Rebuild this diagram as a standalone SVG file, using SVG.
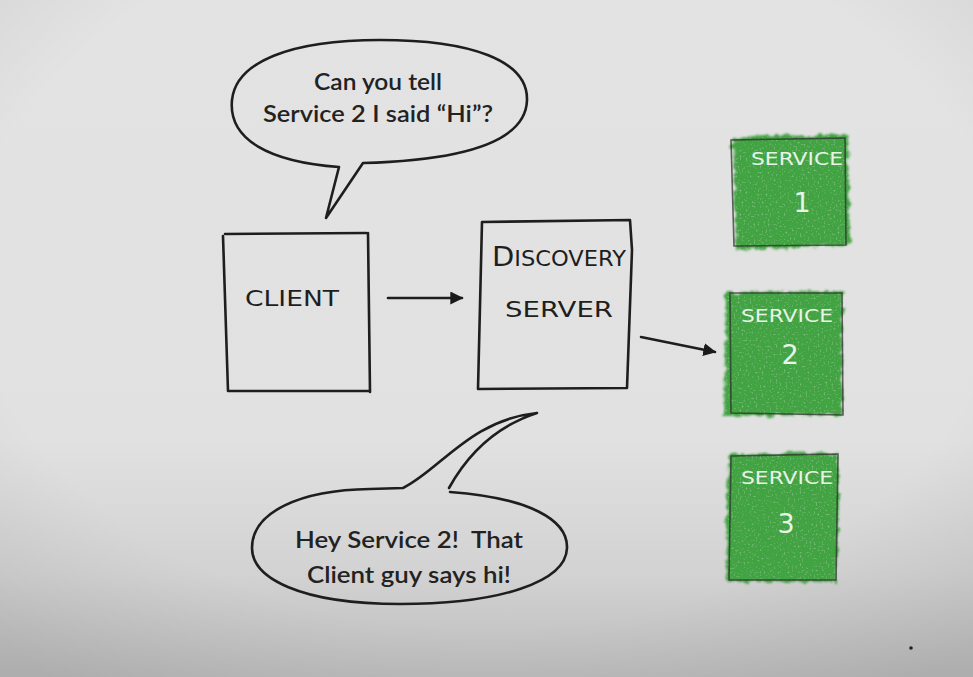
<svg xmlns="http://www.w3.org/2000/svg" width="973" height="677" viewBox="0 0 973 677">
<defs>
<linearGradient id="bg" x1="0" y1="0" x2="0" y2="1">
<stop offset="0" stop-color="#e3e3e3"/>
<stop offset="0.65" stop-color="#e1e1e1"/>
<stop offset="0.85" stop-color="#d2d2d2"/>
<stop offset="1" stop-color="#bcbcbc"/>
</linearGradient>
<radialGradient id="vig" cx="0.5" cy="0.4" r="0.75">
<stop offset="0.7" stop-color="#000" stop-opacity="0"/>
<stop offset="1" stop-color="#000" stop-opacity="0.08"/>
</radialGradient>
<filter id="chalk" x="-10%" y="-10%" width="120%" height="120%">
<feTurbulence type="fractalNoise" baseFrequency="0.12" numOctaves="3" seed="4" result="n"/>
<feDisplacementMap in="SourceGraphic" in2="n" scale="9" xChannelSelector="R" yChannelSelector="G" result="d"/>
<feGaussianBlur in="d" stdDeviation="0.8" result="b"/>
<feTurbulence type="fractalNoise" baseFrequency="0.5" numOctaves="2" seed="9" result="g"/>
<feColorMatrix in="g" type="matrix" values="0 0 0 0 0.45  0 0 0 0 0.75  0 0 0 0 0.45  0 0 0 1.4 -0.8" result="spk"/>
<feComposite in="spk" in2="b" operator="in" result="spk2"/>
<feMerge><feMergeNode in="b"/><feMergeNode in="spk2"/></feMerge>
</filter>
<marker id="ah" viewBox="0 0 10 10" refX="9" refY="5" markerWidth="5" markerHeight="5" orient="auto" markerUnits="strokeWidth">
<path d="M0,0 L10,5 L0,10 z" fill="#1a1a1a"/>
</marker>
<style>
.ink{fill:none;stroke:#1e1e1e;stroke-width:2.6;stroke-linecap:round;stroke-linejoin:round}
.thin{fill:none;stroke:#2a2a2a;stroke-width:1.6}
.hand{font-family:"DejaVu Sans",sans-serif;fill:#1e1e1e;font-size:21px}
.say{font-family:Lato,"Open Sans",sans-serif;fill:#222;font-size:23px;font-weight:600;text-anchor:middle}
.green{fill:#43a343}
.svc{font-family:"DejaVu Sans",sans-serif;fill:#e8f4e8;font-size:17px;text-anchor:middle}
.num{font-family:"DejaVu Sans",sans-serif;fill:#e8f4e8;font-size:27px;text-anchor:middle}
</style>
</defs>
<rect width="973" height="677" fill="url(#bg)"/>
<rect width="973" height="677" fill="url(#vig)"/>

<g id="bubble-top">
<path class="ink" d="M339,167 C270,162 228,140 232,100 C236,62 290,40 380,40 C470,40 528,60 527,100 C526,140 470,160 363,163 L326,218 Z" stroke-linejoin="miter"/>
<text class="say" x="378" y="90" textLength="128" lengthAdjust="spacingAndGlyphs">Can you tell</text>
<text class="say" x="378" y="122" textLength="230" lengthAdjust="spacingAndGlyphs">Service 2 I said “Hi”?</text>
</g>

<g id="client">
<path class="ink" d="M225,234 L366,233 M223,236 L228,391 L369,391 M368,233 L370,392"/>
<text class="hand" x="245" y="306" textLength="94" lengthAdjust="spacingAndGlyphs">CLIENT</text>
</g>

<g id="discovery-server">
<path class="ink" d="M482,222 L630,220 L632,250 L627,388 L478,389 L482,222"/>
<text class="hand" x="492" y="266" textLength="134" lengthAdjust="spacingAndGlyphs"><tspan style="font-size:27px">D</tspan>ISCOVERY</text>
<text class="hand" x="505" y="317" textLength="108" lengthAdjust="spacingAndGlyphs">SERVER</text>
</g>

<g id="service-1">
<path class="green" filter="url(#chalk)" d="M733,137 L848,134 L850,246 L736,250 Z"/>
<path class="thin" d="M731,140 L845,138 L846,245 L734,246 Z" stroke-opacity="0.7"/>
<text class="svc" x="797" y="165" textLength="92" lengthAdjust="spacingAndGlyphs">SERVICE</text>
<text class="num" x="802" y="212">1</text>
</g>

<g id="service-2">
<path class="green" filter="url(#chalk)" d="M726,292 L842,291 L842,415 L724,416 Z"/>
<path class="thin" d="M730,293 L842,293 L843,415 L731,413 Z" stroke-opacity="0.7"/>
<text class="svc" x="787" y="322" textLength="92" lengthAdjust="spacingAndGlyphs">SERVICE</text>
<text class="num" x="790" y="364">2</text>
</g>

<g id="service-3">
<path class="green" filter="url(#chalk)" d="M728,454 L838,452 L838,582 L726,582 Z"/>
<path class="thin" d="M731,456 L838,454 L836,580 L729,580 Z" stroke-opacity="0.7"/>
<text class="svc" x="787" y="484" textLength="92" lengthAdjust="spacingAndGlyphs">SERVICE</text>
<text class="num" x="786" y="533">3</text>
</g>

<g id="bubble-bottom">
<path class="ink" d="M450,492 C530,498 568,520 567,548 C566,582 500,604 400,604 C300,604 252,578 252,548 C252,512 300,490 370,489 L403,488 C440,470 470,420 537,413 C500,425 470,450 449,488"/>
<text class="say" x="409" y="548" textLength="228" lengthAdjust="spacingAndGlyphs" xml:space="preserve">Hey Service 2!  That</text>
<text class="say" x="409" y="583" textLength="204" lengthAdjust="spacingAndGlyphs">Client guy says hi!</text>
</g>

<g id="connectors">
<line class="ink" x1="388" y1="298" x2="462" y2="298" marker-end="url(#ah)"/>
<line class="ink" x1="641" y1="337" x2="715" y2="352" marker-end="url(#ah)"/>
</g>

<circle cx="911" cy="648" r="1.8" fill="#222"/>
</svg>
